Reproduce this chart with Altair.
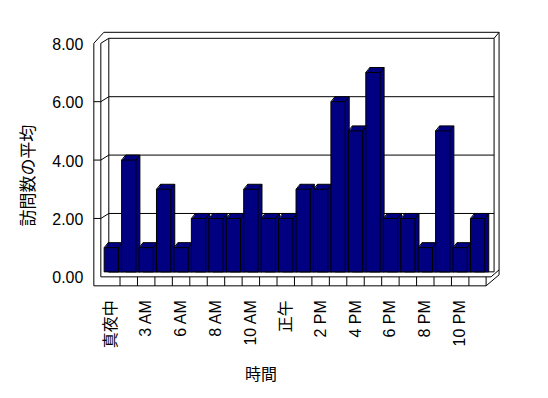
import altair as alt
import pandas as pd

# ---- data ----
hours = ["真夜中", "1 AM", "3 AM", "4 AM", "6 AM", "7 AM", "8 AM", "9 AM", "10 AM", "11 AM",
         "正午", "1 PM", "2 PM", "3 PM", "4 PM", "5 PM", "6 PM", "7 PM", "8 PM", "9 PM",
         "10 PM", "11 PM"]
visits = [1, 4, 1, 3, 1, 2, 2, 2, 3, 2, 2, 3, 3, 6, 5, 7, 2, 2, 1, 5, 1, 2]
y_ticks = [0, 2, 4, 6, 8]
wall_ticks = [2, 4, 6]
shown_labels = hours[::2]

df = pd.DataFrame({"hour": hours, "visits": visits})
grid_df = pd.DataFrame({"v": y_ticks})
wall_df = pd.DataFrame({"v": wall_ticks})
one = pd.DataFrame({"_": [0]})

FONT = "Liberation Sans, Noto Sans CJK JP"
NAVY = "#000080"
W, H = 407, 254
DEPTH_X, DEPTH_Y = 4, 5

# band geometry
r0, r1 = 8.76, 393.24
p_in, p_out = 0.18, 0.09
n = len(hours)
step = (r1 - r0) / (n - p_in + 2 * p_out)
bw = step * (1 - p_in)

yscale = alt.Scale(domain=[0, 8], range=[240, 6], nice=False, zero=False)
xscale = alt.Scale(domain=hours, range=[r0, r1], paddingInner=p_in, paddingOuter=p_out)

yaxis = alt.Axis(values=y_ticks, format=".2f", grid=False, domain=False, ticks=False,
                 labelPadding=11, labelOffset=6, labelFont=FONT, labelFontSize=16,
                 labelColor="black", title="訪問数の平均", titleFont=FONT, titleFontSize=17,
                 titleFontWeight="normal", titleColor="black", titleAngle=270,
                 titleX=-65, titleY=143, titleAlign="center", titleBaseline="middle")
xaxis = alt.Axis(values=shown_labels, labelAngle=270, domain=False, ticks=False, grid=False,
                 labelPadding=14, labelFont=FONT, labelFontSize=16, labelColor="black",
                 labelOverlap=False, title="時間", titleFont=FONT, titleFontSize=16,
                 titleFontWeight="normal", titleColor="black", titleX=167, titleY=89,
                 titleAlign="center", titleBaseline="middle")

X = alt.X("hour:N", scale=xscale, axis=xaxis, sort=hours)
Y = alt.Y("visits:Q", scale=yscale, axis=yaxis, stack=None)


def seg(x1, y1, x2, y2):
    return alt.Chart(one).mark_rule(color="black", strokeWidth=1).encode(
        x=alt.value(x1), y=alt.value(y1), x2=alt.value(x2), y2=alt.value(y2))


layers = []
# frame of the 3D box
frame = [
    (0, 11, 0, 254), (7, 11, 7, 245), (0, 11, 10, 0), (7, 11, 15, 6),
    (10, 0, 406, 0), (406, 0, 406, 243), (401, 6, 406, 0),
    (15, 6, 15, 240), (401, 6, 401, 240),
    (7, 245, 398, 245), (0, 254, 393, 254), (393, 245, 393, 254),
    (393, 254, 406, 243), (398, 245, 406, 238),
]
for s in frame:
    layers.append(seg(*s))

# back wall gridlines
layers.append(alt.Chart(grid_df).mark_rule(color="black", strokeWidth=1).encode(
    y=alt.Y("v:Q", scale=yscale, axis=yaxis), x=alt.value(15), x2=alt.value(401)))
# left wall front ticks
layers.append(alt.Chart(wall_df).mark_rule(color="black", strokeWidth=1, yOffset=DEPTH_Y).encode(
    y=alt.Y("v:Q", scale=yscale, axis=yaxis), x=alt.value(0), x2=alt.value(7)))
# left wall diagonals
layers.append(alt.Chart(wall_df).mark_rule(color="black", strokeWidth=1, yOffset=DEPTH_Y,
                                             y2Offset=0).encode(
    y=alt.Y("v:Q", scale=yscale, axis=yaxis), y2=alt.Y2("v"), x=alt.value(7), x2=alt.value(15)))

# floor separators
layers.append(alt.Chart(df).transform_filter(
    alt.FieldOneOfPredicate(field="hour", oneOf=hours[1:])).mark_rule(
    color="black", strokeWidth=1, xOffset=-step / 2).encode(
    x=X, y=alt.value(245), y2=alt.value(254)))

# bars: extruded depth layers, back to front
for k in [4, 3, 2, 1, 0]:
    kw = dict(color=NAVY, xOffset=k, yOffset=DEPTH_Y - 1.25 * k, y2Offset=DEPTH_Y)
    if k in (4, 0):
        kw.update(stroke="black", strokeWidth=1)
    else:
        kw.update(strokeWidth=0)
    layers.append(alt.Chart(df).mark_bar(**kw).encode(x=X, y=Y))

# top-face diagonal edges
for side in (-1, 1):
    layers.append(alt.Chart(df).mark_rule(
        color="black", strokeWidth=1, xOffset=side * bw / 2, x2Offset=side * bw / 2 + DEPTH_X,
        yOffset=DEPTH_Y, y2Offset=0).encode(
        x=X, x2=alt.X2("hour"), y=Y, y2=alt.Y2("visits")))

chart = alt.layer(*layers).properties(
    width=W, height=H,
    autosize=alt.AutoSizeParams(type="none"),
    padding={"left": 86, "top": 24, "right": 40, "bottom": 100},
    background="white",
).configure_view(strokeWidth=0)

chart.save("out.html", embed_options={"renderer": "svg", "actions": False})
